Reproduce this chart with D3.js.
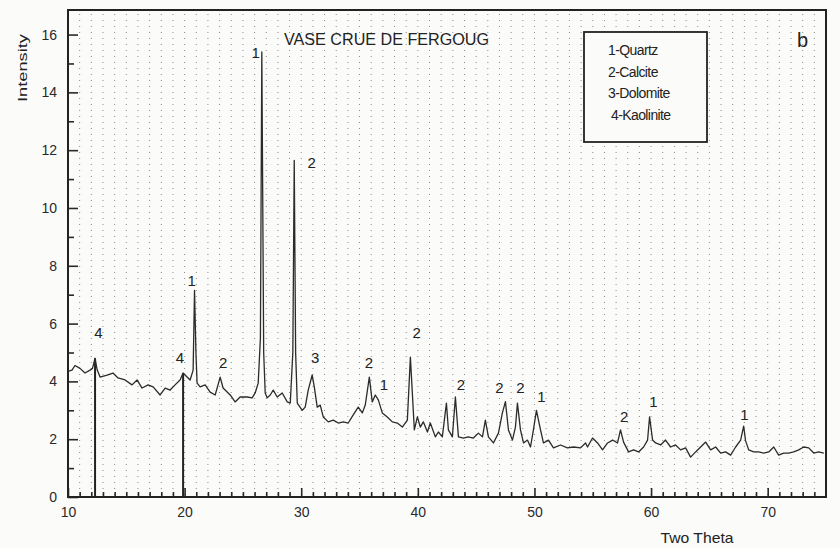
<!DOCTYPE html>
<html>
<head>
<meta charset="utf-8">
<script src="https://cdn.jsdelivr.net/npm/d3@7"></script>
<style>
    html, body { margin: 0; padding: 0; background: #fbfbfa; }
    svg { display: block; font-family: "Liberation Sans", Arial, sans-serif; }
</style>
</head>
<body>
<div id="chart"></div>
<script>
// XRD pattern, raw vase (Fergoug)
var twoTheta = [10.0, 10.34, 10.6, 11.03, 11.46, 11.89, 12.1, 12.32, 12.5, 12.75, 13.35, 13.86, 14.29, 14.89, 15.49, 15.92, 16.35, 16.87, 17.3, 17.9,
    18.33, 18.76, 19.18, 19.61, 19.87, 20.21, 20.47, 20.73, 20.85, 20.97, 21.07, 21.33, 21.76, 22.19, 22.62, 23.05, 23.3, 23.91, 24.33, 24.76,
    25.36, 25.79, 26.05, 26.31, 26.5, 26.62, 26.78, 26.91, 27.08, 27.34, 27.6, 27.94, 28.37, 28.8, 29.06, 29.28, 29.4, 29.52, 29.66, 30.09,
    30.34, 30.6, 30.94, 31.12, 31.37, 31.63, 31.89, 32.32, 32.75, 33.18, 33.61, 34.03, 34.46, 34.89, 35.24, 35.49, 35.84, 36.09, 36.35, 36.61,
    36.95, 37.38, 37.81, 38.24, 38.67, 39.1, 39.36, 39.7, 39.96, 40.21, 40.47, 40.82, 41.07, 41.5, 41.76, 42.1, 42.45, 42.62, 42.96, 43.22,
    43.48, 43.91, 44.33, 44.76, 45.19, 45.54, 45.79, 46.05, 46.48, 46.91, 47.25, 47.51, 47.77, 48.11, 48.37, 48.54, 48.8, 49.06, 49.4, 49.66,
    49.91, 50.17, 50.52, 50.77, 51.2, 51.63, 52.23, 52.83, 53.35, 53.95, 54.38, 54.55, 54.98, 55.41, 55.84, 56.27, 56.7, 57.12, 57.38, 57.64,
    58.07, 58.5, 58.93, 59.36, 59.7, 59.87, 60.13, 60.39, 60.82, 61.24, 61.67, 62.1, 62.53, 62.96, 63.39, 63.82, 64.25, 64.68, 65.11, 65.54,
    65.97, 66.39, 66.82, 67.25, 67.68, 67.94, 68.1, 68.37, 68.8, 69.23, 69.66, 70.09, 70.52, 70.94, 71.37, 71.8, 72.23, 72.66, 73.09, 73.52,
    73.95, 74.38, 74.81];

var intensity = [4.35, 4.39, 4.55, 4.45, 4.29, 4.39, 4.45, 4.8, 4.4, 4.15, 4.22, 4.29, 4.12, 4.05, 3.88, 4.05, 3.77, 3.88, 3.81, 3.53,
    3.77, 3.7, 3.88, 4.05, 4.29, 4.15, 4.05, 4.39, 7.15, 5.0, 3.94, 3.81, 3.88, 3.63, 3.53, 4.15, 3.77, 3.53, 3.29, 3.46,
    3.46, 3.43, 3.6, 3.94, 5.5, 15.4, 5.0, 3.6, 3.43, 3.53, 3.7, 3.46, 3.6, 3.29, 3.25, 5.0, 11.65, 5.0, 3.25, 3.0,
    3.11, 3.7, 4.22, 3.81, 3.11, 3.18, 2.77, 2.6, 2.66, 2.56, 2.6, 2.56, 2.84, 3.11, 2.91, 3.18, 4.15, 3.29, 3.53, 3.36,
    2.91, 2.77, 2.6, 2.56, 2.42, 2.66, 4.84, 2.32, 2.77, 2.42, 2.6, 2.25, 2.56, 2.08, 2.25, 2.08, 3.25, 2.32, 2.08, 3.46,
    2.08, 2.04, 2.08, 2.04, 2.21, 2.08, 2.66, 2.08, 1.87, 2.21, 2.91, 3.3, 2.32, 1.97, 2.42, 3.25, 2.32, 1.87, 1.97, 1.73,
    2.32, 3.0, 2.32, 1.87, 1.97, 1.7, 1.8, 1.7, 1.73, 1.7, 1.87, 1.73, 2.04, 1.87, 1.63, 1.87, 1.97, 1.87, 2.32, 1.9,
    1.56, 1.63, 1.56, 1.73, 1.97, 2.77, 1.97, 1.87, 1.8, 1.97, 1.73, 1.8, 1.63, 1.7, 1.38, 1.56, 1.73, 1.9, 1.63, 1.73,
    1.52, 1.56, 1.45, 1.73, 1.97, 2.45, 1.95, 1.63, 1.56, 1.56, 1.52, 1.56, 1.73, 1.45, 1.52, 1.52, 1.56, 1.63, 1.73, 1.7,
    1.52, 1.56, 1.52];

// Kaolinite reference sticks
var stickTheta = [12.32, 19.87];
var stickHeight = [4.8, 4.29];

// Phase labels above peaks (text, 2theta, intensity at label baseline)
var peakLabelText = ["4", "4", "1", "2", "1", "2", "3", "2", "1", "2", "2", "2", "2", "1", "2", "1", "1"];
var peakLabelTheta = [12.6, 19.6, 20.6, 23.3, 26.1, 30.9, 31.2, 35.8, 37.1, 39.9, 43.7, 47.0, 48.8, 50.6, 57.7, 60.2, 68.0];
var peakLabelInt = [5.5, 4.65, 7.3, 4.45, 15.2, 11.4, 4.65, 4.45, 3.7, 5.5, 3.7, 3.6, 3.6, 3.3, 2.6, 3.1, 2.65];

var legendItems = ["1-Quartz", "2-Calcite", "3-Dolomite", "4-Kaolinite"];
var yMajorTicks = [0, 2, 4, 6, 8, 10, 12, 14, 16];
var yMinorTicks = [1, 3, 5, 7, 9, 11, 13, 15];
var xMajorTicks = [10, 20, 30, 40, 50, 60, 70];

(function () {
    "use strict";

    var W = 840, H = 548;
    var plotLeft = 68, plotRight = 826, plotTop = 10, plotBottom = 497;

    var svg = d3.select("#chart").append("svg")
        .attr("width", W)
        .attr("height", H);

    var x = d3.scaleLinear().domain([10, 75]).range([plotLeft, plotRight]);
    var y = d3.scaleLinear().domain([0, 16.85]).range([plotBottom, plotTop]);

    // Dotted grid (one column per degree)
    svg.append("g")
        .attr("class", "grid")
        .selectAll("line")
        .data(d3.range(11, 75))
        .enter().append("line")
        .attr("x1", function (d) { return x(d); })
        .attr("x2", function (d) { return x(d); })
        .attr("y1", plotTop + 4)
        .attr("y2", plotBottom)
        .attr("stroke", "#8a8a8a")
        .attr("stroke-width", 1)
        .attr("stroke-dasharray", "1,5");

    // Y axis, ticks pointing inward
    svg.append("g")
        .attr("transform", "translate(" + plotLeft + ",0)")
        .call(d3.axisLeft(y).tickValues(yMajorTicks).tickSize(-10).tickPadding(11));
    svg.append("g")
        .attr("transform", "translate(" + plotLeft + ",0)")
        .call(d3.axisLeft(y).tickValues(yMinorTicks).tickSize(-6).tickFormat(""));

    // X axis
    svg.append("g")
        .attr("transform", "translate(0," + plotBottom + ")")
        .call(d3.axisBottom(x).tickValues(xMajorTicks).tickSize(-9).tickPadding(10));
    svg.append("g")
        .attr("transform", "translate(0," + plotBottom + ")")
        .call(d3.axisBottom(x).tickValues(d3.range(11, 75).filter(function (d) { return d % 10 !== 0; }))
            .tickSize(-5).tickFormat(""));

    svg.selectAll(".domain").remove();
    svg.selectAll(".tick line").attr("stroke", "#2a2a2a").attr("stroke-width", 1.6);
    svg.selectAll(".tick text")
        .attr("font-family", "'Liberation Sans', Arial, sans-serif")
        .attr("font-size", "14px")
        .attr("fill", "#2a2a2a");

    // Frame
    svg.append("rect")
        .attr("x", plotLeft)
        .attr("y", plotTop)
        .attr("width", plotRight - plotLeft)
        .attr("height", plotBottom - plotTop)
        .attr("fill", "none")
        .attr("stroke", "#222")
        .attr("stroke-width", 2);

    // Sticks
    svg.append("g").selectAll("line")
        .data(stickTheta)
        .enter().append("line")
        .attr("x1", function (d) { return x(d); })
        .attr("x2", function (d) { return x(d); })
        .attr("y1", y(0))
        .attr("y2", function (d, i) { return y(stickHeight[i]); })
        .attr("stroke", "#222")
        .attr("stroke-width", 2);

    // Pattern trace
    var pts = twoTheta.map(function (t, i) { return [t, intensity[i]]; });
    svg.append("path")
        .datum(pts)
        .attr("fill", "none")
        .attr("stroke", "#2b2b2b")
        .attr("stroke-width", 1.3)
        .attr("stroke-linejoin", "round")
        .attr("d", d3.line()
            .x(function (d) { return x(d[0]); })
            .y(function (d) { return y(d[1]); }));

    // Peak labels
    svg.append("g").selectAll("text")
        .data(peakLabelText)
        .enter().append("text")
        .attr("x", function (d, i) { return x(peakLabelTheta[i]); })
        .attr("y", function (d, i) { return y(peakLabelInt[i]); })
        .attr("text-anchor", "middle")
        .attr("font-size", "15px")
        .attr("fill", "#222")
        .text(function (d) { return d; });

    // Title
    svg.append("text")
        .attr("x", 284)
        .attr("y", 45)
        .attr("font-size", "16px")
        .attr("textLength", 205)
        .attr("lengthAdjust", "spacingAndGlyphs")
        .attr("fill", "#222")
        .text("VASE CRUE DE FERGOUG");

    // Legend box
    svg.append("rect")
        .attr("x", 584)
        .attr("y", 32)
        .attr("width", 123)
        .attr("height", 110)
        .attr("fill", "#fbfbfa")
        .attr("stroke", "#222")
        .attr("stroke-width", 1.8);

    svg.append("g").selectAll("text")
        .data(legendItems)
        .enter().append("text")
        .attr("x", function (d, i) { return i === 3 ? 611 : 608; })
        .attr("y", function (d, i) { return 55 + i * 21.5; })
        .attr("font-size", "14px")
        .attr("letter-spacing", "-0.6px")
        .attr("fill", "#222")
        .text(function (d) { return d; });

    // Panel letter
    svg.append("text")
        .attr("x", 797)
        .attr("y", 47)
        .attr("font-size", "20px")
        .attr("fill", "#222")
        .text("b");

    // Axis titles
    svg.append("text")
        .attr("transform", "translate(27,68) rotate(-90)")
        .attr("text-anchor", "middle")
        .attr("font-size", "13px")
        .attr("textLength", 68)
        .attr("lengthAdjust", "spacingAndGlyphs")
        .attr("fill", "#222")
        .text("Intensity");

    svg.append("text")
        .attr("x", 697)
        .attr("y", 543)
        .attr("text-anchor", "middle")
        .attr("font-size", "15px")
        .attr("textLength", 73)
        .attr("lengthAdjust", "spacingAndGlyphs")
        .attr("fill", "#222")
        .text("Two Theta");
})();
</script>
</body>
</html>
